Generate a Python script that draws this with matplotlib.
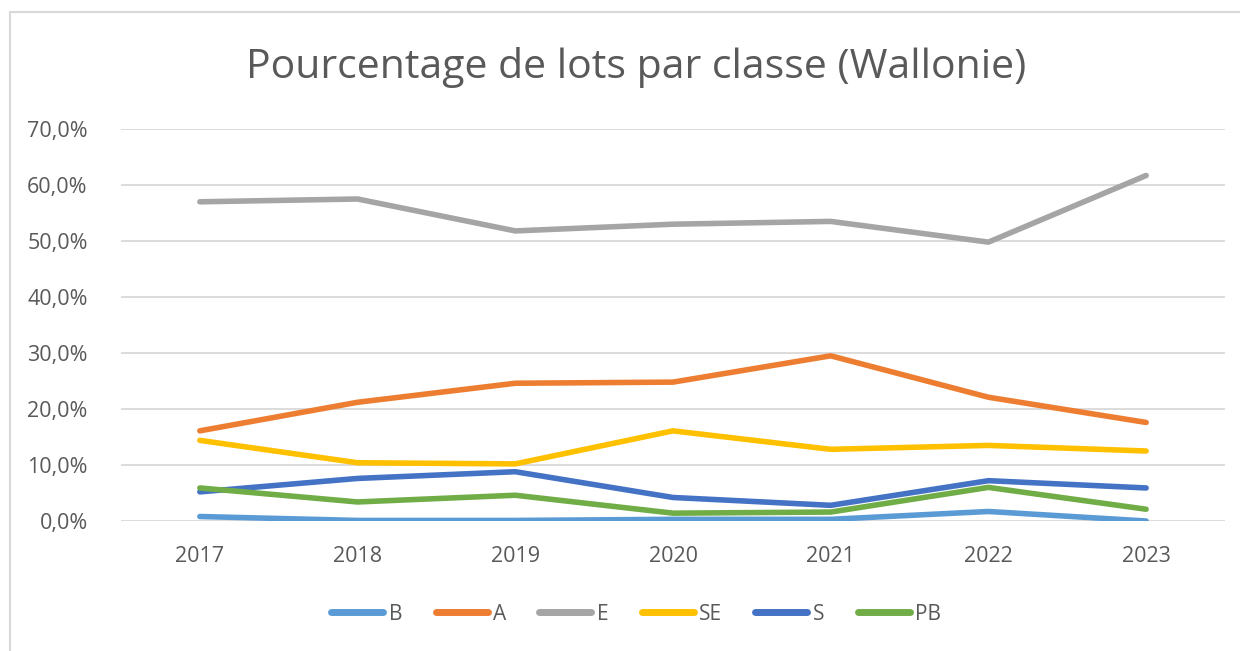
import matplotlib
matplotlib.use('Agg')
import matplotlib.pyplot as plt
from matplotlib.ticker import FuncFormatter
from matplotlib.lines import Line2D

plt.rcParams['font.family'] = ['Open Sans', 'DejaVu Sans']

years = ['2017', '2018', '2019', '2020', '2021', '2022', '2023']
B = [0.8, 0.1, 0.1, 0.3, 0.3, 1.7, 0.0]
A = [16.1, 21.2, 24.6, 24.8, 29.5, 22.1, 17.6]
E = [57.0, 57.5, 51.8, 53.0, 53.5, 49.8, 61.7]
SE = [14.4, 10.4, 10.2, 16.1, 12.8, 13.5, 12.5]
S = [5.2, 7.6, 8.8, 4.2, 2.8, 7.2, 5.9]
PB = [5.9, 3.4, 4.6, 1.4, 1.6, 6.0, 2.1]

series = [('B', B, '#5B9BD5'), ('A', A, '#ED7D31'), ('E', E, '#A5A5A5'),
          ('SE', SE, '#FFC000'), ('S', S, '#4472C4'), ('PB', PB, '#70AD47')]

txt = '#595959'
fig = plt.figure(figsize=(12.4, 6.51), dpi=100)
ax = fig.add_axes([121/1240, 1-521/651, (1225-121)/1240, (521-129)/651])

x = list(range(len(years)))
for name, vals, col in series:
    ax.plot(x, [v/100 for v in vals], color=col, lw=4, solid_capstyle='round',
            solid_joinstyle='round', label=name)

ax.set_xlim(-0.5, len(years)-0.5)
ax.set_ylim(0, 0.7)
ax.set_yticks([i/10 for i in range(8)])
ax.yaxis.set_major_formatter(FuncFormatter(lambda v, p: ('%.1f%%' % (v*100)).replace('.', ',')))
ax.set_xticks(x)
ax.set_xticklabels(years)
ax.grid(axis='y', color='#D9D9D9', lw=1.3)
ax.set_axisbelow(True)
for s in ax.spines.values():
    s.set_visible(False)
ax.tick_params(length=0, labelsize=15.5, colors=txt)
ax.tick_params(axis='x', pad=18)
ax.tick_params(axis='y', pad=24)

fig.text(0.513, 1-67/651, 'Pourcentage de lots par classe (Wallonie)', ha='center', va='center',
         fontsize=29.5, color=txt)

handles = [Line2D([], [], color=c, lw=5, solid_capstyle='round') for _, _, c in series]
fig.legend(handles, [n for n, _, _ in series], loc='center', bbox_to_anchor=(0.513, 1-614/651),
           ncol=6, frameon=False, fontsize=15, labelcolor=txt, handlelength=2.5,
           handletextpad=0.25, columnspacing=1.6)

# chart border (partly cropped in the reference)
fig.add_artist(plt.Rectangle((10/1240, -0.01), 1.0, 1-12/651+0.01, transform=fig.transFigure,
                             fill=False, ec='#D9D9D9', lw=1.5))

fig.savefig('out.png', dpi=100)
